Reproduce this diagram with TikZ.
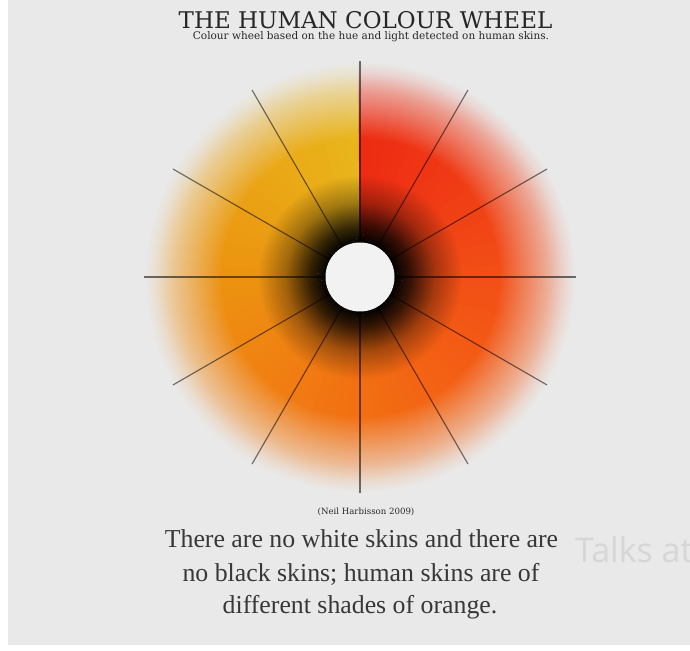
\documentclass[tikz,border=0pt]{standalone}
\usepackage{xcolor}
\usepackage{fontspec}
\setmainfont{Liberation Serif}
\newfontfamily\titlefont{DejaVu Serif}
\newfontfamily\talksfont{Open Sans}
\usepackage{tikz}
\usetikzlibrary{positioning}

\definecolor{bgcol}{HTML}{E9E9E9}
\definecolor{eyecol}{HTML}{F2F2F2}
\definecolor{inkcol}{HTML}{262626}
\definecolor{hueA}{HTML}{E9B51C}
\definecolor{hueB}{HTML}{EAA414}
\definecolor{hueC}{HTML}{EC9210}
\definecolor{hueD}{HTML}{F08012}
\definecolor{hueE}{HTML}{F26E12}
\definecolor{hueF}{HTML}{F35E14}
\definecolor{hueG}{HTML}{F24E16}
\definecolor{hueH}{HTML}{EF3A15}
\definecolor{hueI}{HTML}{EE2A12}
\colorlet{wedgecol}{hueA}

\pgfdeclareradialshading[wedgecol]{skinshade}{\pgfpoint{0bp}{0bp}}{%
  color(0bp)=(black); color(3.9bp)=(black);
  color(5.8bp)=(wedgecol!22!black);
  color(8.6bp)=(wedgecol!68!black);
  color(11.8bp)=(wedgecol); color(16bp)=(wedgecol);
  color(18bp)=(wedgecol!78!bgcol);
  color(21.5bp)=(wedgecol!40!bgcol);
  color(23.5bp)=(wedgecol!12!bgcol);
  color(24.8bp)=(bgcol); color(50bp)=(bgcol)}

\tikzset{
  spoke/.style={draw=black, line width=1.1pt, opacity=0.55},
  titletext/.style={font=\titlefont\fontsize{23}{26}\selectfont, text=inkcol, anchor=base, inner sep=0pt},
  subtext/.style={font=\titlefont\fontsize{10.5}{11}\selectfont, text=inkcol, anchor=base, inner sep=0pt},
  credit/.style={font=\titlefont\fontsize{8.6}{9}\selectfont, text=inkcol, anchor=base, inner sep=0pt},
  bodytext/.style={font=\fontsize{25.8}{33}\selectfont, text=black!78, anchor=base, inner sep=0pt},
  talks/.style={font=\talksfont\fontsize{34}{38}\selectfont, text=black!16, anchor=base west, inner sep=0pt}
}

\begin{document}
\begin{tikzpicture}[x=1pt, y=1pt]
  \clip (0,0) rectangle (690,650);
  \fill[white] (0,0) rectangle (690,650);
  \fill[bgcol] (8,5) rectangle (690,650);

  \coordinate (hub) at (360,373);

  \foreach \from/\to [count=\seg from 0] in {hueA/hueB, hueB/hueC, hueC/hueD, hueD/hueE, hueE/hueF, hueF/hueG, hueG/hueH, hueH/hueI} {
    \foreach \s in {0,...,8} {
      \pgfmathsetmacro{\anga}{90+45*\seg+5*\s}
      \pgfmathsetmacro{\angb}{\anga+5.5}
      \pgfmathtruncatemacro{\pct}{100*\s/9}
      \colorlet{wedgecol}{\to!\pct!\from}
      \begin{scope}
        \clip (hub) -- ++(\anga:230) arc[start angle=\anga, end angle=\angb, radius=230] -- cycle;
        \shade[shading=skinshade] (hub) circle[radius=217];
      \end{scope}
    }
  }

  \foreach \a in {0,30,...,330}
    \draw[spoke] (hub) -- ++(\a:216);

  \node[circle, fill=eyecol, minimum size=69pt, inner sep=0pt] (eye) at (hub) {};

  \node[titletext] (title) at (365.5,621.5) {THE HUMAN COLOUR WHEEL};
  \node[subtext] (subtitle) at (371,610.5) {Colour wheel based on the hue and light detected on human skins.};
  \node[credit] (credit) at (366,135) {(Neil Harbisson 2009)};

  \node[bodytext] (line1) at (361.5,102) {There are no white skins and there are};
  \node[bodytext] (line2) at (361,68.5) {no black skins; human skins are of};
  \node[bodytext] (line3) at (360,37) {different shades of orange.};

  \node[talks] (talks) at (575,87) {Talks at};
\end{tikzpicture}
\end{document}
